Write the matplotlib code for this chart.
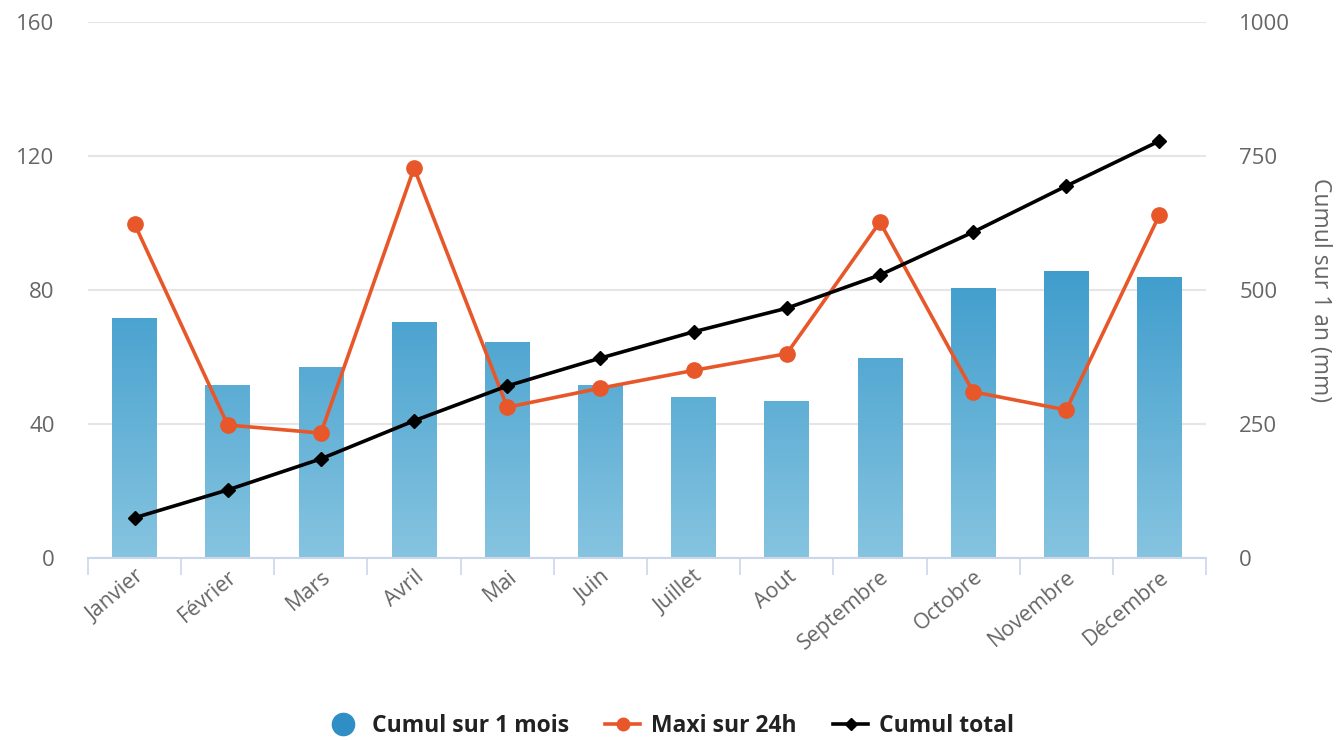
import numpy as np
import matplotlib.pyplot as plt
from matplotlib.lines import Line2D
from matplotlib.colors import LinearSegmentedColormap

months = ["Janvier", "Février", "Mars", "Avril", "Mai", "Juin", "Juillet",
          "Aout", "Septembre", "Octobre", "Novembre", "Décembre"]
cumul_mois = [71.6, 51.6, 57.0, 70.4, 64.5, 51.6, 48.0, 46.9, 59.7, 80.6, 85.7, 83.9]
maxi_24h = [99.7, 39.7, 37.3, 116.4, 45.0, 50.7, 56.0, 61.0, 100.3, 49.6, 44.2, 102.4]
cumul_total = [75, 127, 185, 256, 321, 373, 422, 466, 528, 608, 694, 778]

plt.rcParams['font.family'] = ['Open Sans', 'DejaVu Sans']

fig = plt.figure(figsize=(13.4, 7.4), dpi=100)
ax = fig.add_axes([88 / 1340, 1 - 558 / 740, 1118 / 1340, 536 / 740])
ax2 = ax.twinx()

x = np.arange(len(months))

# bars with vertical gradient
bars = ax.bar(x, cumul_mois, width=0.48, color="none", edgecolor="none", zorder=2)
cmap = LinearSegmentedColormap.from_list("g", ["#86c4e0", "#3a9acb"])
grad = np.linspace(0, 1, 256).reshape(-1, 1)
for b in bars:
    im = ax.imshow(grad, cmap=cmap, origin="lower", aspect="auto",
                   extent=[b.get_x(), b.get_x() + b.get_width(), 0, 92], zorder=2)
    im.set_clip_path(b)
ax.set_xlim(-0.5, 11.5)
ax.set_ylim(0, 160)
ax2.set_ylim(0, 1000)

ax.plot(x, maxi_24h, color="#e8572a", lw=2.6, marker="o", ms=11, zorder=4)
# cumul total is read on the right axis, drawn in ax so it sits above the bars
ax.plot(x, np.array(cumul_total) * 160 / 1000, color="#000000", lw=2.6,
        marker="D", ms=7.5, zorder=5)

ax.set_yticks([0, 40, 80, 120, 160])
ax2.set_yticks([0, 250, 500, 750, 1000])
ax.grid(axis="y", color="#e6e6e6", lw=1.5, zorder=0)
ax.set_axisbelow(True)

for a in (ax, ax2):
    for s in a.spines.values():
        s.set_visible(False)
ax.spines["bottom"].set_visible(True)
ax.spines["bottom"].set_color("#ccd6eb")
ax.spines["bottom"].set_linewidth(1.5)

ax.tick_params(axis="y", length=0, pad=24, labelsize=16, labelcolor="#666666")
ax2.tick_params(axis="y", length=0, pad=24, labelsize=16, labelcolor="#666666")

ax.set_xticks(x)
ax.set_xticklabels(months, rotation=40, ha="right", rotation_mode="anchor",
                   fontsize=15.5, color="#666666")
ax.set_xticks(np.arange(-0.5, 12, 1), minor=True)
ax.tick_params(axis="x", which="major", length=0, pad=6)
ax.tick_params(axis="x", which="minor", length=12, width=1.2, color="#ccd6eb")

ax2.set_ylabel("Cumul sur 1 an (mm)", rotation=270, fontsize=16.5,
               color="#666666", labelpad=30)

handles = [
    Line2D([], [], ls="none", marker="o", ms=16, color="#2f8fc4"),
    Line2D([], [], color="#e8572a", lw=2.6, marker="o", ms=9),
    Line2D([], [], color="#000000", lw=2.6, marker="D", ms=6.5),
]
labels = ["Cumul sur 1 mois", "Maxi sur 24h", "Cumul total"]
fig.legend(handles, labels, loc="center", bbox_to_anchor=(0.5, 1 - 726 / 740),
           ncol=3, frameon=False, prop={"weight": "bold", "size": 16.5},
           labelcolor="#222222", handlelength=1.5, columnspacing=1.6,
           handletextpad=0.5)

fig.savefig("out.png", dpi=100)
